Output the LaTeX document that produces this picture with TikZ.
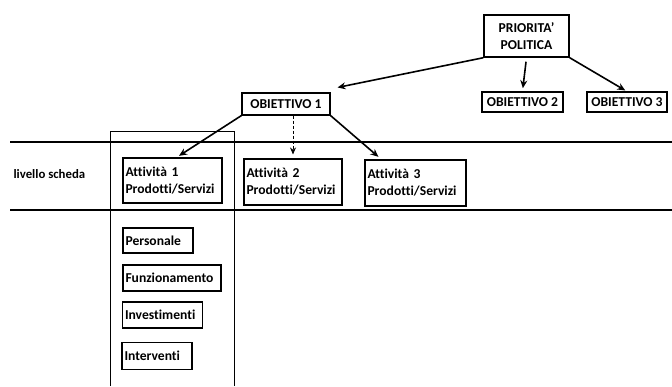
\documentclass[tikz,border=0pt]{standalone}
\usepackage{fontspec}
\setmainfont{Carlito}[Ligatures=NoCommon]
\usepackage{tikz}
\usetikzlibrary{arrows.meta}
\tikzset{
    box/.style={draw, line width=1.1pt, inner sep=0pt, font=\bfseries\fontsize{13.6}{17}\selectfont}, % riquadri
    lbox/.style={box, align=left, text width=#1, inner xsep=2.5pt}, % riquadri con testo a sinistra
    arr/.style={-{Stealth[length=8pt,width=7pt]}, line width=1.6pt}, % frecce piene
    sep/.style={line width=1.4pt} % linee del livello
}

\begin{document}
\begin{tikzpicture}[x=1pt, y=-1pt]
            \useasboundingbox (0,0) rectangle (672,386);

            % livello scheda
            \draw[sep] (10,142) -- (672,142);
            \draw[sep] (10,210) -- (672,210);
            \draw[line width=0.8pt] (110,386) -- (110,131) -- (234,131) -- (234,386);
            \node[anchor=west, font=\bfseries\fontsize{12.8}{15}\selectfont] (liv) at (10,174) {livello scheda};

            % priorita e obiettivi
            \node[box, line width=1.5pt, align=center, minimum width=85pt, minimum height=42pt] (prio) at (526.5,36) {PRIORITA'\\POLITICA};
            \node[box, minimum width=88pt, minimum height=22pt] (ob1) at (286,104) {OBIETTIVO 1};
            \node[box, line width=1.6pt, minimum width=81pt, minimum height=20pt] (ob2) at (522.5,102) {OBIETTIVO 2};
            \node[box, minimum width=80pt, minimum height=20pt] (ob3) at (627,102) {OBIETTIVO 3};

            % attivita
            \node[lbox=94pt, minimum height=45pt] (att1) at (172.5,180.5) {Attività 1\\Prodotti/Servizi};
            \node[lbox=93pt, minimum height=46pt] (att2) at (293,182) {Attività 2\\Prodotti/Servizi};
            \node[lbox=96pt, minimum height=46pt] (att3) at (415.5,183) {Attività 3\\Prodotti/Servizi};

            % voci di spesa
            \node[lbox=65pt, minimum height=25pt] (pers) at (158,240.5) {Personale};
            \node[lbox=93pt, minimum height=26pt] (funz) at (172,278) {Funzionamento};
            \node[lbox=75pt, minimum height=26pt] (inv) at (162.5,315) {Investimenti};
            \node[lbox=65pt, minimum height=27pt] (interv) at (157,356) {Interventi};

            \draw[arr] (prio.south west) -- ([xshift=7pt,yshift=5pt]ob1.north east);
            \draw[arr, shorten <=4pt, shorten >=3pt] (prio.south) -- (ob2.north);
            \draw[arr, shorten >=2pt] (prio.south east) -- (ob3.north);
            \draw[arr, shorten >=3pt] (ob1.south west) -- ([xshift=4pt]att1.north);
            \draw[-{Stealth[length=7pt,width=6pt]}, densely dashed, line width=0.8pt, shorten >=4pt] (ob1.south -| att2) -- (att2.north);
            \draw[arr, shorten >=4pt] (ob1.south east) -- ([xshift=17pt]att3.north west);
        \end{tikzpicture}
\end{document}
